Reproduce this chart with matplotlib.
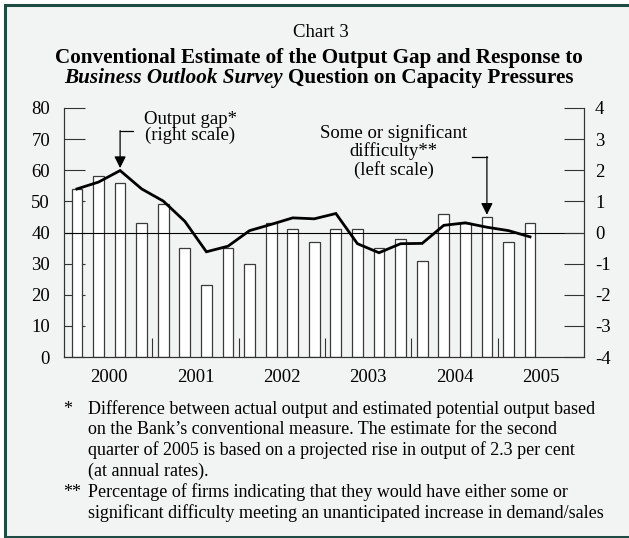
import numpy as np
import matplotlib.pyplot as plt
from matplotlib.patches import Rectangle

plt.rcParams['font.family'] = ['Liberation Serif', 'DejaVu Serif']
plt.rcParams['axes.unicode_minus'] = False

years = ['2000', '2001', '2002', '2003', '2004', '2005']
# firms reporting some or significant difficulty, % (left scale), 2000Q1-2005Q2
difficulty = [54, 58, 56, 43, 49, 35, 23, 35, 30, 43, 41, 37,
              41, 41, 35, 38, 31, 46, 43, 45, 37, 43]
# conventional output gap, % (right scale)
output_gap = [1.40, 1.62, 1.99, 1.40, 1.01, 0.36, -0.62, -0.44, 0.06, 0.26, 0.47,
              0.44, 0.61, -0.36, -0.65, -0.36, -0.35, 0.23, 0.31, 0.17, 0.06, -0.14]
left_ticks = [0, 10, 20, 30, 40, 50, 60, 70, 80]
right_ticks = [-4, -3, -2, -1, 0, 1, 2, 3, 4]
right_labels = ['-4', '-3', '-2', '-1', '0', '1', '2', '3', '4']

W, H = 629, 538


def px(x, y):
    # pixel position (from top-left) -> figure fraction
    return x / W, 1 - y / H


fig = plt.figure(figsize=(W / 100, H / 100), dpi=100, facecolor='white')
fig.patches.append(Rectangle((4.5 / W, 1.5 / H), 1.0, 532 / H, transform=fig.transFigure,
                             facecolor='#f2f4f3', edgecolor='#1e4b44', lw=2.2, zorder=-10))

ax = fig.add_axes([64 / W, 1 - 357 / H, 520 / W, 249 / H])
ax.set_facecolor('none')
ax2 = ax.twinx()

x = np.arange(len(difficulty)) + 0.5
ax.bar(x, difficulty, width=0.5, color='white', edgecolor='#3a3a3a', lw=0.9, zorder=2)
ax.axhline(40, color='black', lw=0.8, zorder=3)
ax2.plot(x, output_gap, color='black', lw=2.0, solid_joinstyle='miter', zorder=4)

ax.set_xlim(-0.1, 24)
ax.set_ylim(0, 80)
ax2.set_ylim(-4, 4)

spine_col = '#333333'
for a in (ax, ax2):
    a.spines['top'].set_visible(False)
    for s in ('left', 'right', 'bottom'):
        a.spines[s].set_color(spine_col)
        a.spines[s].set_linewidth(0.8)

fs = 13.5
ax.set_yticks(left_ticks)
ax.set_yticklabels([str(v) for v in left_ticks])
ax.tick_params(axis='y', direction='in', length=15, width=0.8, color=spine_col,
               pad=10, labelsize=fs)
ax2.set_yticks(right_ticks)
ax2.set_yticklabels(right_labels)
ax2.tick_params(axis='y', direction='in', length=14.5, width=0.8, color=spine_col,
                pad=8, labelsize=fs)

# year boundaries as ticks, year names centred on each year
ax.set_xticks([4, 8, 12, 16, 20])
ax.set_xticklabels([])
ax.tick_params(axis='x', which='major', direction='in', length=13.7, width=0.8, color=spine_col)
ax.set_xticks([2, 6, 10, 14, 18, 22], minor=True)
ax.set_xticklabels(years, minor=True)
ax.tick_params(axis='x', which='minor', length=0, pad=9, labelsize=fs)

# arrow to the output gap line
ax2.plot([3.1, 2.5], [3.27, 3.27], color='black', lw=0.9)
ax2.annotate('', xy=(2.5, 2.07), xytext=(2.5, 3.27),
             arrowprops=dict(arrowstyle='-|>,head_length=0.7,head_width=0.35',
                             color='black', lw=0.9, shrinkA=0, shrinkB=0, mutation_scale=10))
# arrow to the bars
ax.plot([18.82, 19.5], [64.4, 64.4], color='black', lw=0.9)
ax.annotate('', xy=(19.5, 45.7), xytext=(19.5, 64.4),
            arrowprops=dict(arrowstyle='-|>,head_length=0.7,head_width=0.35',
                            color='black', lw=0.9, shrinkA=0, shrinkB=0, mutation_scale=10))

fig.text(*px(190.5, 124.5), 'Output gap*', ha='center', va='baseline', fontsize=fs)
fig.text(*px(190.5, 140), '(right scale)', ha='center', va='baseline', fontsize=fs)
fig.text(*px(393.5, 137.7), 'Some or significant', ha='center', va='baseline', fontsize=fs)
fig.text(*px(393.5, 156.5), 'difficulty**', ha='center', va='baseline', fontsize=fs)
fig.text(*px(393.5, 175), '(left scale)', ha='center', va='baseline', fontsize=fs)

# titles
cx = 319
fig.text(*px(320.5, 37.3), 'Chart 3', ha='center', va='baseline', fontsize=13.5)
fig.text(*px(cx, 62.5), 'Conventional Estimate of the Output Gap and Response to',
         ha='center', va='baseline', fontsize=15.2, fontweight='bold')
t1 = fig.text(0, 1 - 83 / H, 'Business Outlook Survey', ha='left', va='baseline',
              fontsize=15.2, fontweight='bold', fontstyle='italic')
t2 = fig.text(0, 1 - 83 / H, 'Question on Capacity Pressures', ha='left', va='baseline',
              fontsize=15.2, fontweight='bold')
r = fig.canvas.get_renderer()
w1 = t1.get_window_extent(r).width
w2 = t2.get_window_extent(r).width
gap = 5
x0 = cx - (w1 + gap + w2) / 2
t1.set_x(x0 / W)
t2.set_x((x0 + w1 + gap) / W)

# footnotes
nfs = 13
notes = [
    ('*', 414, 'Difference between actual output and estimated potential output based'),
    ('', 434.5, 'on the Bank\u2019s conventional measure. The estimate for the second'),
    ('', 455, 'quarter of 2005 is based on a projected rise in output of 2.3 per cent'),
    ('', 475.7, '(at annual rates).'),
    ('**', 497.3, 'Percentage of firms indicating that they would have either some or'),
    ('', 518.3, 'significant difficulty meeting an unanticipated increase in demand/sales'),
]
for mark, by, line in notes:
    if mark:
        fig.text(*px(63, by), mark, ha='left', va='baseline', fontsize=nfs)
    fig.text(*px(88.3, by), line, ha='left', va='baseline', fontsize=nfs)

fig.savefig('out.png', dpi=100, facecolor='white')
